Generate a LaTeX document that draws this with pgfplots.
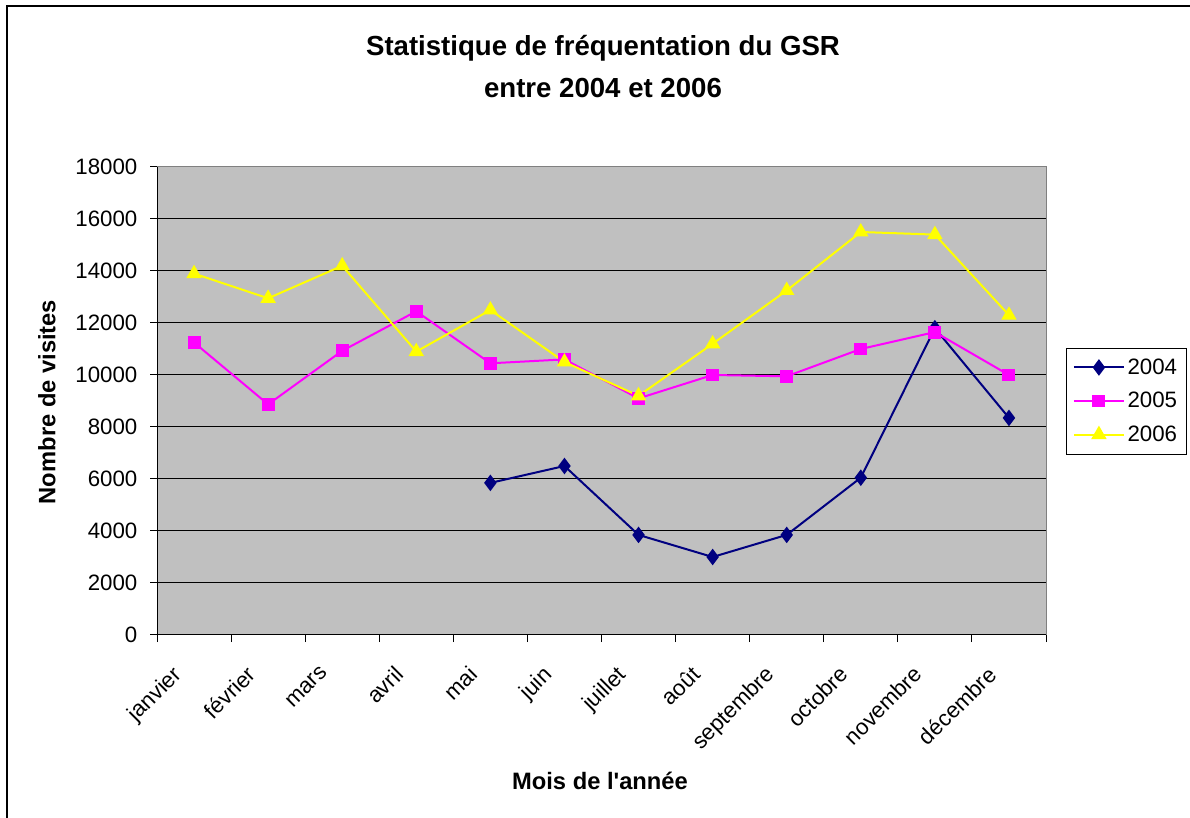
\documentclass[border=0pt]{standalone}
\usepackage{pgfplots}
\pgfplotsset{compat=1.18}
\usepackage{fontspec}
\setmainfont{Liberation Sans}

\definecolor{s2004}{HTML}{000080}
\definecolor{s2005}{HTML}{FF00FF}
\definecolor{s2006}{HTML}{FFFF00}
\definecolor{plotbg}{HTML}{C0C0C0}

\begin{document}
\begin{tikzpicture}[x=0.75pt,y=0.75pt]
\useasboundingbox (0,0) rectangle (1190,818);
% outer chart frame (right and bottom edges fall outside the page)
\draw[line width=1.5pt] (7,-20) -- (7,812) -- (1210,812);

\node[font=\bfseries\fontsize{20.7}{24}\selectfont] at (603,770) {Statistique de fréquentation du GSR};
\node[font=\bfseries\fontsize{20.7}{24}\selectfont] at (603,730) {entre 2004 et 2006};
\node[rotate=90, font=\bfseries\fontsize{17.8}{20}\selectfont] at (47,416) {Nombre de visites};
\node[font=\bfseries\fontsize{17.8}{20}\selectfont] at (600,37) {Mois de l\textquotesingle année};

\begin{axis}[
    at={(117.75pt,137.25pt)}, anchor=south west,
    scale only axis, width=666.75pt, height=351pt,
    xmin=-0.5, xmax=11.5, ymin=0, ymax=18000,
    enlargelimits=false,
    axis background/.style={fill=plotbg},
    axis line style={draw=gray, line width=0.75pt},
    ymajorgrids, grid style={black, line width=0.75pt},
    ytick={0,2000,...,18000},
    scaled y ticks=false,
    xtick={0,...,11},
    xticklabels={janvier,février,mars,avril,mai,juin,juillet,août,septembre,octobre,novembre,décembre},
    minor xtick={-0.5,0.5,...,11.5},
    tick pos=left,
    tick align=outside,
    major tick length=5.25pt, minor tick length=5.25pt,
    tick style={black, line width=0.75pt},
    major x tick style={draw=none},
    /pgf/number format/1000 sep={},
    /pgf/number format/assume math mode=true,
    tick label style={font=\fontsize{16.7}{19}\selectfont},
    xticklabel style={xshift=-17pt, yshift=-12pt, rotate=45, anchor=north east},
    yticklabel style={xshift=-6pt},
    legend style={at={(1,0.5)}, anchor=west, xshift=15pt, draw=black,
        fill=white, font=\fontsize{16.7}{19}\selectfont,
        row sep=8pt, inner xsep=5pt, inner ysep=6pt},
    legend cell align=left,
    legend image code/.code={%
        \draw[mark repeat=2, mark phase=2, #1] plot coordinates {(0pt,0pt) (18.75pt,0pt) (37.5pt,0pt)};},
]
\addplot[s2004, line width=1.5pt, mark=diamond*, mark size=5pt,
    mark options={fill=s2004, draw=s2004}]
    coordinates {(4,5850) (5,6500) (6,3850) (7,3000) (8,3850) (9,6050) (10,11800) (11,8350)};
\addplot[s2005, line width=1.5pt, mark=square*, mark size=4.1pt,
    mark options={fill=s2005, draw=s2005}]
    coordinates {(0,11250) (1,8870) (2,10930) (3,12450) (4,10450) (5,10600)
                 (6,9100) (7,10000) (8,9950) (9,11000) (10,11650) (11,10000)};
\addplot[s2006, line width=1.5pt, mark=triangle*, mark size=5.2pt,
    mark options={fill=s2006, draw=s2006}]
    coordinates {(0,13900) (1,12950) (2,14200) (3,10900) (4,12500) (5,10500)
                 (6,9200) (7,11200) (8,13250) (9,15500) (10,15400) (11,12300)};
\legend{2004,2005,2006}
\draw[black, line width=0.75pt] (rel axis cs:0,1) -- (rel axis cs:0,0) -- (rel axis cs:1,0);
\end{axis}
\end{tikzpicture}
\end{document}
